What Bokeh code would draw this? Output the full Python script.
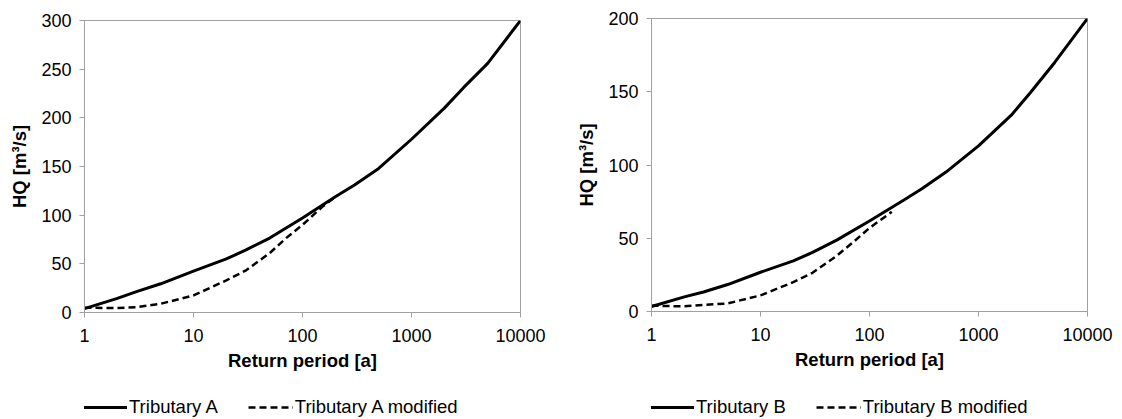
from bokeh.plotting import figure
from bokeh.layouts import row, column
from bokeh.models import (Range1d, FixedTicker, NumeralTickFormatter, Legend, LegendItem)
from bokeh.embed import file_html
from bokeh.resources import INLINE

# Return periods [a] and HQ [m3/s]
T_a = [1, 2, 3, 5, 10, 20, 30, 50, 100, 200, 300, 500, 1000, 2000, 3000, 5000, 10000]
hq_a = [4, 14.5, 21.5, 29.5, 42.5, 55, 64, 76.5, 97, 119, 131, 148, 178, 210, 231, 256, 300]
T_a_mod = [1, 2, 3, 5, 10, 20, 30, 50, 70, 100, 150, 200]
hq_a_mod = [5, 4.5, 5.5, 9, 17.5, 33, 43, 61, 76, 90, 108, 119]

T_b = [1, 2, 3, 5, 10, 20, 30, 50, 100, 200, 300, 500, 1000, 2000, 3000, 5000, 10000]
hq_b = [3.4, 10, 13.3, 18.4, 26.8, 34.6, 40.3, 48.7, 61.8, 75.4, 83.6, 95, 113, 134, 149.5, 170, 200]
T_b_mod = [1, 2, 3, 5, 10, 20, 30, 50, 70, 100, 160]
hq_b_mod = [4, 3.5, 4.5, 5.5, 11, 20, 26.4, 38, 47, 57, 68]

x_ticks = [1, 10, 100, 1000, 10000]
FONT = "Liberation Sans"
GRAY = "#A0A0A0"

SOLID = dict(line_color="black", line_width=3, line_join="round")
DASHED = dict(line_color="black", line_width=2.5, line_dash="7 4")


def make(T, hq, Tm, hqm, ymax, bl, fw, br, bt, fh, bb):
    p = figure(x_axis_type="log", output_backend="svg", toolbar_location=None,
               frame_width=fw, frame_height=fh,
               min_border_left=bl, min_border_right=br, min_border_top=bt, min_border_bottom=bb,
               x_range=Range1d(1, 10000), y_range=Range1d(0, ymax))
    p.xgrid.visible = False
    p.ygrid.visible = False
    p.outline_line_color = GRAY
    p.outline_line_width = 1
    p.background_fill_color = "white"
    p.border_fill_color = "white"

    p.line(T, hq, **SOLID)
    p.line(Tm, hqm, **DASHED)

    for ax in (p.xaxis[0], p.yaxis[0]):
        ax.axis_line_color = GRAY
        ax.major_tick_line_color = GRAY
        ax.major_tick_in = 0
        ax.major_tick_out = 5
        ax.minor_tick_line_color = None
        ax.major_label_text_font = FONT
        ax.major_label_text_font_size = "18px"
        ax.major_label_text_color = "#000000"
        ax.axis_label_text_font = FONT
        ax.axis_label_text_font_size = "18.5px"
        ax.axis_label_text_font_style = "bold"
        ax.axis_label_text_color = "#000000"

    p.xaxis.ticker = FixedTicker(ticks=x_ticks)
    p.xaxis.formatter = NumeralTickFormatter(format="0")
    p.xaxis.axis_label = "Return period [a]"
    p.xaxis.major_label_standoff = 11
    p.xaxis.axis_label_standoff = 5

    p.yaxis.ticker = FixedTicker(ticks=list(range(0, ymax + 1, 50)))
    p.yaxis.axis_label = "HQ [m³/s]"
    p.yaxis.major_label_standoff = 8
    p.yaxis.axis_label_standoff = 8
    return p


def make_legend(name, T, hq, Tm, hqm, bl, fw, br):
    # legend strip below a chart; its series lie outside its visible range
    lf = figure(output_backend="svg", toolbar_location=None,
                frame_width=fw, frame_height=30,
                min_border_left=bl, min_border_right=br, min_border_top=0, min_border_bottom=0,
                x_axis_location=None, y_axis_location=None,
                x_range=Range1d(-1, 0), y_range=Range1d(-1, 0))
    lf.grid.visible = False
    lf.outline_line_color = None
    lf.background_fill_color = "white"
    lf.border_fill_color = "white"
    r1 = lf.line(T, hq, **SOLID)
    r2 = lf.line(Tm, hqm, **DASHED)
    leg = Legend(items=[LegendItem(label=name, renderers=[r1]),
                        LegendItem(label=name + " modified", renderers=[r2])],
                 orientation="horizontal", location=(-2, 0))
    leg.glyph_width = 45
    leg.label_standoff = 2
    leg.spacing = 30
    leg.padding = 0
    leg.margin = 0
    leg.border_line_color = None
    leg.background_fill_alpha = 0
    leg.label_text_font = FONT
    leg.label_text_font_size = "18.5px"
    leg.label_text_color = "#000000"
    lf.add_layout(leg, "center")
    return lf


p1 = make(T_a, hq_a, T_a_mod, hq_a_mod, 300, 84, 436, 45, 20, 292, 76)
p2 = make(T_b, hq_b, T_b_mod, hq_b_mod, 200, 86, 436, 30, 18, 293, 77)
l1 = make_legend("Tributary A", T_a, hq_a, T_a_mod, hq_a_mod, 84, 436, 45)
l2 = make_legend("Tributary B", T_b, hq_b, T_b_mod, hq_b_mod, 86, 436, 30)

layout = row(column(p1, l1, spacing=0), column(p2, l2, spacing=0), spacing=0)
open("out.html", "w").write(file_html(layout, INLINE))
